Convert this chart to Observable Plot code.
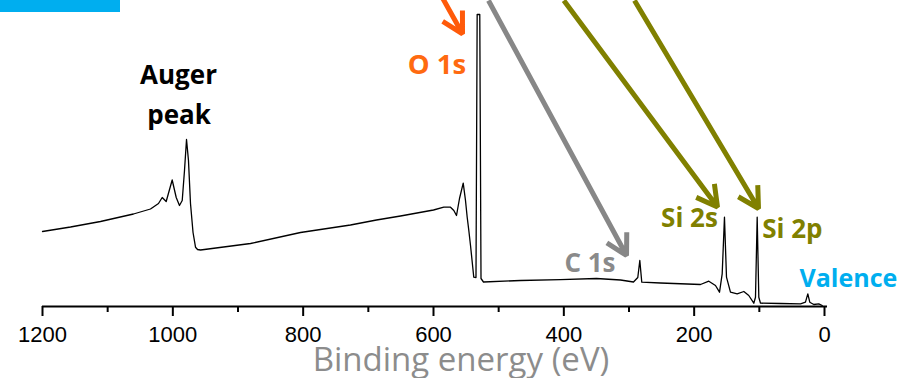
<!DOCTYPE html>
<html><head><meta charset="utf-8">
<script src="https://cdn.jsdelivr.net/npm/d3@7"></script>
<script src="https://cdn.jsdelivr.net/npm/@observablehq/plot@0.6"></script>
<style>
body{margin:0;background:#fff;}
#wrap{position:relative;width:897px;height:378px;overflow:hidden;background:#fff;}
#tab{position:absolute;left:0;top:0;width:120px;height:12px;background:#00AEEF;}
</style></head><body>
<div id="wrap"><div id="tab"></div></div>
<script>
// XPS survey spectrum (binding energy in eV, intensity in arbitrary units)
const energy = [1200,1157,1111,1060.4,1034.3,1022,1016.3,1010.2,1001,994.8,989.8,985.6,982.1,979,976,972.9,969,965.2,962.1,957.5,
  880.8,804.1,727.4,687.5,650.6,600,584.2,573.9,568.8,564.7,560.1,554.4,550.9,548.3,545.8,543.2,538.2,534.8,533,529,527.1,523.3,
  466.5,405.1,350,313,293.1,286.5,283.4,280.4,251.7,190.3,177.5,167.3,161.1,157,153.5,150.4,144.3,134,123.8,116.2,108.5,105.9,
  103.3,100.8,98.2,67.5,36.8,29.2,25.6,22.6,16.4,8.8,3.5];
const intensity = [75,79.5,85,92.5,97.5,103,109,105,126.5,109,101,106,136,167,146,103,74,59.3,57,56.5,
  63,74,81.5,86.5,90.5,96.5,99.3,99.3,96,91,108,123.3,106,89.3,76,61,29.3,29,292,292,28,24.5,
  26,26.8,28,26.5,24.5,29,46,24.3,23.5,22,25.3,21,14.3,32.7,89.3,29.3,14.3,12.7,15,11,3.3,9.3,
  89.3,9.3,3.3,3,2.7,4.3,12.7,4.3,2,2.7,1];

const majorTicks = [1200,1000,800,600,400,200,0];
const minorTicks = [1100,900,700,500,300,100];
const axisTitle = "Binding energy (eV)";

// peak annotations
const labelText   = ["Auger","peak","O 1s","C 1s","Si 2s","Si 2p","Valence"];
const labelE      = [991.3,990.5,594.6,359.9,207.2,95.6,38.4];
const labelI      = [223,183,233,34.3,79.3,69,19.3];
const labelSize   = [26,26,27.5,26,26,26,25];
const labelColor  = ["#000000","#000000","#ff6a10","#8a8a8a","#808000","#808000","#00aeef"];
const labelAlign  = ["middle","middle","middle","middle","middle","start","start"];

// arrows pointing at peaks
const arrowE1 = [635.3,515.6,400,291.6];
const arrowI1 = [366,306,306,306];
const arrowE2 = [555.5,303.8,164.2,101.3];
const arrowI2 = [272.7,51,99.5,98];
const arrowColor = ["#ff5a0a","#878787","#808000","#808000"];

const idx = n => d3.range(n);
const mid = idx(labelText.length).filter(i => labelAlign[i] === "middle");
const start = idx(labelText.length).filter(i => labelAlign[i] === "start");
const labelOpts = {x: i => labelE[i], y: i => labelI[i], text: i => labelText[i], fill: i => labelColor[i],
  fontSize: i => labelSize[i], lineAnchor: "bottom", fontWeight: "bold", fontFamily: "'Open Sans', sans-serif"};

const chart = Plot.plot({
  width: 897, height: 378,
  marginTop: 0, marginBottom: 72, marginLeft: 42, marginRight: 73,
  x: {domain: [1200, 0], axis: null},
  y: {domain: [0, 306], axis: null},
  color: {type: "identity"},
  style: {fontFamily: "'Liberation Sans', Arial, sans-serif", background: "transparent", overflow: "visible"},
  marks: [
    Plot.line(idx(energy.length), {x: i => energy[i], y: i => intensity[i], stroke: "#000", strokeWidth: 1.3}),
    Plot.arrow(idx(arrowE1.length), {x1: i => arrowE1[i], y1: i => arrowI1[i], x2: i => arrowE2[i], y2: i => arrowI2[i],
      stroke: i => arrowColor[i], strokeWidth: 5, headLength: 7, headAngle: 58, strokeLinejoin: "miter", strokeLinecap: "butt"}),
    Plot.text(mid, {...labelOpts, textAnchor: "middle"}),
    Plot.text(start, {...labelOpts, textAnchor: "start"}),
    Plot.ruleY([0], {stroke: "#000", strokeWidth: 2, insetRight: -3}),
    Plot.axisX(majorTicks, {anchor: "bottom", tickSize: 10, tickPadding: 10, strokeWidth: 2, fontSize: 22,
      tickFormat: d => String(d), label: null, fill: "#000"}),
    Plot.axisX(minorTicks, {anchor: "bottom", tickSize: 6, strokeWidth: 2, tickFormat: () => "", label: null}),
    Plot.text([axisTitle], {x: 557.8, y: -64.5, text: d => d, textAnchor: "middle", lineAnchor: "bottom",
      fontSize: 33, fill: "#8c8c8c", fontFamily: "'Open Sans', sans-serif"})
  ]
});
document.getElementById("wrap").appendChild(chart);
</script>
</body></html>
